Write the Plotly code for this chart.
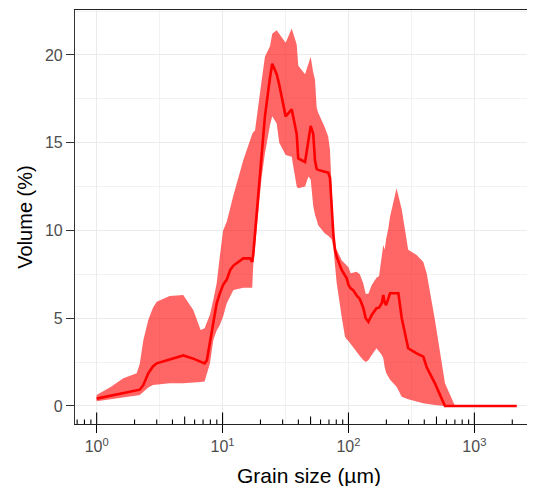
import plotly.graph_objects as go
import numpy as np

# Grain size classes (µm)
size_um = [1.0, 1.3, 1.63, 2.08, 2.2, 2.35, 2.57, 2.8, 3.0, 3.8, 4.87, 5.85, 6.7, 7.2, 7.5,
           7.94, 8.44, 8.98, 9.5, 10.1, 10.8, 11.5, 12.2, 14.6, 16.5, 17.2, 17.5, 18.1, 20.4,
           21.7, 23.8, 24.8, 26.9, 28.2, 31.7, 35.4, 38.8, 39.9, 45.2, 48.1, 50.1, 52.5, 54.2,
           55.9, 57.5, 64.7, 69.0, 71.3, 73.6, 76.0, 78.2, 80.6, 88.3, 93.8, 96.8, 100, 104,
           109, 116, 123, 131, 137, 144, 153, 167, 175, 184, 189, 194, 199, 207, 214, 241, 249,
           265, 298, 348, 393, 418, 486, 584, 702, 1000, 1500, 2170]

# Mean volume (%)
vol_mean = [0.42, 0.6, 0.74, 0.88, 0.93, 1.2, 1.86, 2.25, 2.43, 2.65, 2.88, 2.7, 2.5, 2.43, 2.6,
            3.6, 4.8, 5.85, 6.4, 6.9, 7.2, 7.75, 8.0, 8.41, 8.41, 8.22, 8.6, 9.8, 14.2,
            16.5, 18.7, 19.5, 18.9, 18.3, 16.5, 16.9, 15.5, 14.1, 13.9, 15.2, 15.95, 15.5, 14.0,
            13.5, 13.45, 13.35, 13.3, 13.0, 11.3, 9.7, 8.9, 8.5, 7.75, 7.4, 7.28, 6.9, 6.7,
            6.6, 6.3, 6.1, 5.6, 5.0, 4.8, 5.19, 5.57, 5.6, 5.85, 6.33, 5.9, 5.75, 6.2, 6.42, 6.42, 6.42,
            5.0, 3.29, 3.0, 2.81, 2.2, 1.29, 0.0, 0.0, 0.0, 0.0, 0.0]

# Lower bound of the band (%)
vol_low = [0.27, 0.42, 0.5, 0.6, 0.63, 0.8, 1.05, 1.2, 1.25, 1.29, 1.3, 1.33, 1.37, 1.39, 1.9,
           2.43, 3.76, 4.3, 4.6, 5.1, 5.85, 6.2, 6.61, 6.74, 6.74, 6.74, 7.94, 9.0, 13.0,
           14.4, 16.0, 16.5, 16.1, 15.0, 14.3, 14.2, 12.5, 12.4, 12.5, 13.07, 12.9, 11.4, 10.9,
           10.6, 10.3, 9.84, 9.7, 9.6, 9.5, 9.0, 8.0, 7.0, 5.09, 3.95, 3.8, 3.7, 3.6,
           3.4, 3.09, 2.85, 2.62, 2.5, 2.6, 2.9, 3.29, 3.1, 2.9, 2.72, 2.2, 1.9, 1.67, 1.5, 1.1, 0.95,
           0.53, 0.38, 0.25, 0.15, 0.1, 0.06, 0.0, 0.0, 0.0, 0.0, 0.0]

# Upper bound of the band (%)
vol_high = [0.62, 1.1, 1.58, 1.86, 2.4, 3.76, 4.9, 5.6, 5.94, 6.27, 6.32, 5.47, 4.33, 4.43, 4.75,
            5.2, 6.04, 6.99, 8.5, 10.0, 10.5, 11.3, 12.0, 14.0, 15.2, 15.5, 15.6, 15.7, 18.5,
            19.9, 20.5, 21.2, 21.4, 21.2, 20.7, 21.5, 20.6, 19.4, 18.9, 19.5, 19.9, 19.0, 18.6,
            17.0, 16.7, 15.9, 15.35, 14.6, 12.0, 9.9, 9.0, 8.9, 8.3, 8.1, 8.03, 7.9, 7.56,
            7.6, 7.65, 7.5, 6.99, 6.4, 6.4, 6.9, 7.3, 7.4, 8.7, 9.17, 8.9, 9.5, 10.1, 10.8, 12.4, 12.0,
            11.2, 8.9, 8.6, 8.2, 7.56, 4.9, 1.29, 0.0, 0.0, 0.0, 0.0]

x_tickvals = [1, 10, 100, 1000]
x_ticktext = ["10<sup>0</sup>", "10<sup>1</sup>", "10<sup>2</sup>", "10<sup>3</sup>"]
y_tickvals = [0, 5, 10, 15, 20]

fig = go.Figure()

fig.add_trace(go.Scatter(
    x=size_um + size_um[::-1],
    y=vol_high + vol_low[::-1],
    fill="toself", fillcolor="rgba(255,0,0,0.6)",
    line=dict(width=0), mode="lines", hoverinfo="skip", showlegend=False))

fig.add_trace(go.Scatter(
    x=size_um, y=vol_mean, mode="lines",
    line=dict(color="#FF0000", width=2.6), showlegend=False))

X_RANGE = [-0.172, 3.545]

# log ticks (annotation_logticks style) along the bottom
shapes = []
for k in range(-1, 4):
    for m in range(1, 10):
        v = m * 10 ** k
        lv = np.log10(v)
        if lv < X_RANGE[0] or lv > X_RANGE[1]:
            continue
        length = 11.5 if m == 1 else (7.5 if m == 5 else 4.5)
        shapes.append(dict(type="line", xref="x", yref="paper", ysizemode="pixel",
                           yanchor=0, x0=v, x1=v, y0=0, y1=length,
                           line=dict(color="black", width=1.1)))
fig.update_layout(shapes=shapes)

font = "Liberation Sans, Arial, Helvetica, sans-serif"
# the page body has an 8px margin: margins below compensate so the panel lands where it should
fig.update_layout(
    width=535, height=486,
    margin=dict(l=67, r=0, t=2, b=70),
    plot_bgcolor="white", paper_bgcolor="white",
    font=dict(family=font),
    xaxis=dict(type="log", range=X_RANGE,
               tickvals=x_tickvals, ticktext=x_ticktext,
               ticks="outside", ticklen=8, tickwidth=1.1, tickcolor="black",
               tickfont=dict(size=16, color="#4D4D4D", family=font),
               showline=True, linecolor="#222222", linewidth=1.1, mirror=True,
               showgrid=True, gridcolor="#EBEBEB", gridwidth=1.2,
               minor=dict(tickvals=[10 ** -0.5, 10 ** 0.5, 10 ** 1.5, 10 ** 2.5],
                          showgrid=True, gridcolor="#F2F2F2", gridwidth=0.7, ticks=""),
               zeroline=False,
               title=dict(text="Grain size (µm)", font=dict(size=21, color="black", family=font),
                          standoff=14)),
    yaxis=dict(range=[-1.026, 22.56], tickvals=y_tickvals,
               ticks="outside", ticklen=8, tickwidth=1.1, tickcolor="#333333",
               tickfont=dict(size=16, color="#4D4D4D", family=font),
               showline=True, linecolor="#333333", linewidth=1.1,
               showgrid=True, gridcolor="#EBEBEB", gridwidth=1.2,
               minor=dict(dtick=2.5, showgrid=True, gridcolor="#F2F2F2", gridwidth=0.7, ticks=""),
               zeroline=False,
               title=dict(text="Volume (%)", font=dict(size=20, color="black", family=font),
                          standoff=6)),
)

fig.write_html("out.html")
